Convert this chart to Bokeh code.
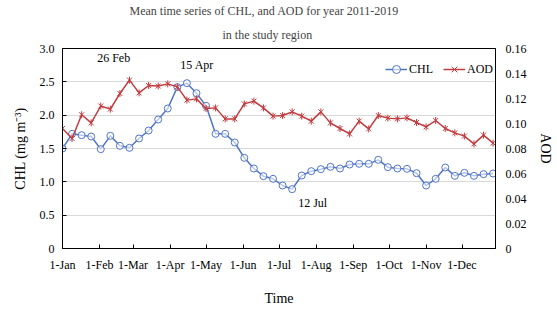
from bokeh.plotting import figure
from bokeh.models import (Range1d, LinearAxis, FixedTicker, Legend, LegendItem,
                          Label, Title, ColumnDataSource)
from bokeh.embed import file_html
from bokeh.resources import INLINE

# ---- data (8-day composites, day of year from 1-Jan) ----
days = [0, 8, 16, 24, 32, 40, 48, 56, 64, 72, 80, 88, 96, 104, 112, 120,
        128, 136, 144, 152, 160, 168, 176, 184, 192, 200, 208, 216, 224, 232,
        240, 248, 256, 264, 272, 280, 288, 296, 304, 312, 320, 328, 336, 344,
        352, 360]
chl = [1.50, 1.72, 1.70, 1.68, 1.49, 1.69, 1.54, 1.51, 1.65, 1.77,
       1.935, 2.10, 2.42, 2.48, 2.33, 2.14, 1.72, 1.72, 1.59, 1.36,
       1.20, 1.085, 1.045, 0.945, 0.89, 1.095, 1.16, 1.19, 1.225, 1.20,
       1.26, 1.27, 1.27, 1.33, 1.22, 1.20, 1.195, 1.13, 0.945, 1.045,
       1.215, 1.09, 1.135, 1.09, 1.115, 1.125]
aod = [0.096, 0.088, 0.107, 0.1005, 0.114, 0.1115, 0.124, 0.1347, 0.1245, 0.1304,
       0.130, 0.1317, 0.1293, 0.1187, 0.1197, 0.112, 0.1125, 0.1037, 0.1037, 0.1157,
       0.1179, 0.1125, 0.1059, 0.1064, 0.1093, 0.1059, 0.1019, 0.1093, 0.1005, 0.096,
       0.0917, 0.1019, 0.0957, 0.1064, 0.1043, 0.1037, 0.1045, 0.1008, 0.0973, 0.1024,
       0.096, 0.0925, 0.0899, 0.0837, 0.0907, 0.0843]

month_ticks = [0, 31, 59, 90, 120, 151, 181, 212, 243, 273, 304, 334]
month_labels = ["1-Jan", "1-Feb", "1-Mar", "1-Apr", "1-May", "1-Jun", "1-Jul",
                "1-Aug", "1-Sep", "1-Oct", "1-Nov", "1-Dec"]
chl_ticks = [0, 0.5, 1.0, 1.5, 2.0, 2.5, 3.0]
chl_labels = ["0", "0.5", "1.0", "1.5", "2.0", "2.5", "3.0"]
aod_ticks = [0, 0.02, 0.04, 0.06, 0.08, 0.10, 0.12, 0.14, 0.16]
aod_labels = ["0", "0.02", "0.04", "0.06", "0.08", "0.10", "0.12", "0.14", "0.16"]

note_texts = ["26 Feb", "15 Apr", "12 Jul"]
note_days = [29, 98.5, 197]
note_vals = [2.865, 2.76, 0.69]

FONT = "Liberation Serif"
BLUE = "#4f74c8"
RED = "#c23b3e"

src = ColumnDataSource(dict(day=days, chl=chl, aod=aod))

p = figure(width=555, height=308, title=None, output_backend="svg",
           toolbar_location=None, x_range=Range1d(0, 362), y_range=Range1d(0, 3.0),
           min_border_left=62, min_border_right=60, min_border_top=48,
           min_border_bottom=60, background_fill_color="white",
           border_fill_color="white")
p.extra_y_ranges = {"aod": Range1d(0, 0.16)}

p.outline_line_color = "black"
p.outline_line_width = 1
p.xgrid.grid_line_color = None
p.ygrid.grid_line_color = "#d9d9d9"
p.ygrid.ticker = FixedTicker(ticks=chl_ticks)

# x axis
xa = p.xaxis[0]
xa.ticker = FixedTicker(ticks=month_ticks)
xa.major_label_overrides = dict(zip(month_ticks, month_labels))
xa.axis_label = "Time"
# left axis
ya = p.yaxis[0]
ya.ticker = FixedTicker(ticks=chl_ticks)
ya.major_label_overrides = dict(zip(chl_ticks, chl_labels))
ya.axis_label = "CHL (mg m\u207b\u00b3)"
# right axis
ra = LinearAxis(y_range_name="aod", axis_label="AOD")
ra.ticker = FixedTicker(ticks=aod_ticks)
ra.major_label_overrides = dict(zip(aod_ticks, aod_labels))
p.add_layout(ra, "right")

for ax in (xa, ya, ra):
    ax.axis_line_color = "black"
    ax.major_tick_line_color = "black"
    ax.major_tick_in = 4
    ax.major_tick_out = 0
    ax.minor_tick_line_color = None
    ax.major_label_text_font = FONT
    ax.major_label_text_font_size = "12px"
    ax.major_label_text_color = "black"
    ax.axis_label_text_font = FONT
    ax.axis_label_text_font_size = "14px"
    ax.axis_label_text_font_style = "normal"
    ax.axis_label_text_color = "black"
ra.major_tick_in = 0
xa.major_label_standoff = 9
xa.axis_label_standoff = 16
ya.major_label_standoff = 8
ya.axis_label_standoff = 9
ra.major_label_standoff = 10
ra.axis_label_standoff = 8

# series
l1 = p.line("day", "chl", source=src, line_color=BLUE, line_width=1.5)
s1 = p.scatter("day", "chl", source=src, marker="circle", size=7,
               line_color=BLUE, fill_color="white", fill_alpha=0.6, line_width=1)
l2 = p.line("day", "aod", source=src, y_range_name="aod", line_color=RED, line_width=1.5)
s2 = p.scatter("day", "aod", source=src, y_range_name="aod", marker="x", size=7,
               line_color=RED, line_width=1)
s3 = p.scatter("day", "aod", source=src, y_range_name="aod", marker="dash", size=7,
               angle=1.5708, line_color=RED, line_width=1)

legend = Legend(items=[LegendItem(label="CHL", renderers=[l1, s1]),
                       LegendItem(label="AOD", renderers=[l2, s2, s3])],
                orientation="horizontal", location=(323, 169), padding=0, margin=0,
                spacing=10, label_standoff=2, glyph_width=22, glyph_height=20,
                border_line_color=None, background_fill_alpha=0,
                label_text_font=FONT, label_text_font_size="12px",
                label_text_color="black")
p.add_layout(legend, "center")

for t, d, v in zip(note_texts, note_days, note_vals):
    p.add_layout(Label(x=d, y=v, text=t, text_font=FONT, text_font_size="12px",
                       text_font_style="normal", text_baseline="middle",
                       text_align="left", text_color="black"))

t2 = Title(text="in the study region", align="left", text_font=FONT,
           text_font_size="12px", text_font_style="normal", standoff=13, offset=160)
t1 = Title(text="Mean time series of CHL, and AOD for year 2011-2019", align="left",
           text_font=FONT, text_font_size="12px", text_font_style="normal",
           standoff=3, offset=67)
p.add_layout(t2, "above")
p.add_layout(t1, "above")

open("out.html", "w").write(file_html(p, INLINE))
